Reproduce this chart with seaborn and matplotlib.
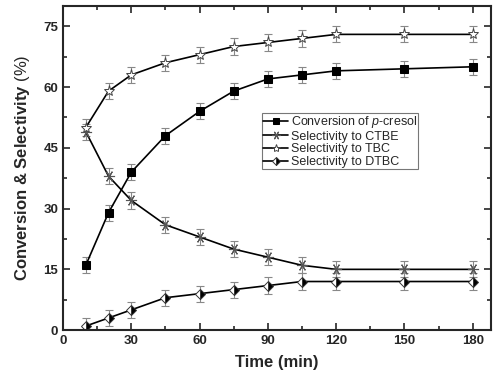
import numpy as np
import pandas as pd
import matplotlib
matplotlib.use('Agg')
import matplotlib.pyplot as plt
import seaborn as sns
from matplotlib.ticker import MultipleLocator

time_min = [10, 20, 30, 45, 60, 75, 90, 105, 120, 150, 180]
conv_pcresol = [16, 29, 39, 48, 54, 59, 62, 63, 64, 64.5, 65]
sel_ctbe = [49, 38, 32, 26, 23, 20, 18, 16, 15, 15, 15]
sel_tbc = [50, 59, 63, 66, 68, 70, 71, 72, 73, 73, 73]
sel_dtbc = [1, 3, 5, 8, 9, 10, 11, 12, 12, 12, 12]
err = 2

labels = ['Conversion of $p$-cresol', 'Selectivity to CTBE', 'Selectivity to TBC', 'Selectivity to DTBC']
series = [conv_pcresol, sel_ctbe, sel_tbc, sel_dtbc]

sns.set_style('ticks')
plt.rcParams['font.family'] = ['Liberation Sans', 'DejaVu Sans']
plt.rcParams['mathtext.fontset'] = 'custom'
plt.rcParams['mathtext.it'] = 'Liberation Sans:italic'
plt.rcParams['mathtext.rm'] = 'Liberation Sans'

fig = plt.figure(figsize=(5, 3.76), dpi=100)
ax = fig.add_axes([0.126, 0.122, 0.856, 0.862])

# marker styles per series
styles = [
    dict(marker='s', markersize=5.5, markerfacecolor='black', markeredgecolor='black'),
    dict(marker=(6, 2, 90), markersize=8, markeredgecolor='#555555', markeredgewidth=0.8),
    dict(marker='*', markersize=8, markerfacecolor='white', markeredgecolor='#444444', markeredgewidth=0.7),
    dict(marker='D', markersize=5.5, fillstyle='right', markerfacecolor='black',
         markerfacecoloralt='white', markeredgecolor='#333333', markeredgewidth=0.7),
]

for vals, lab, st in zip(series, labels, styles):
    df = pd.DataFrame({'t': time_min, 'v': vals})
    ax.errorbar(df['t'], df['v'], yerr=err, fmt='none', ecolor='#888888',
                elinewidth=0.8, capsize=3, capthick=0.8, zorder=1)
    sns.lineplot(data=df, x='t', y='v', ax=ax, color='black', linewidth=1.2,
                 label=lab, zorder=2, **st)

ax.set_xlim(0, 188)
ax.set_ylim(0, 80)
ax.xaxis.set_major_locator(MultipleLocator(30))
ax.xaxis.set_minor_locator(MultipleLocator(15))
ax.yaxis.set_major_locator(MultipleLocator(15))
ax.yaxis.set_minor_locator(MultipleLocator(7.5))
ax.tick_params(which='both', direction='in', top=True, right=True, width=1.2)
ax.tick_params(which='major', length=5, labelsize=9.5)
ax.tick_params(which='minor', length=3)
ax.tick_params(labeltop=False, labelright=False)
for lbl in ax.get_xticklabels() + ax.get_yticklabels():
    lbl.set_fontweight('bold')
for sp in ax.spines.values():
    sp.set_linewidth(1.5)
    sp.set_visible(True)

ax.set_xlabel('Time (min)', fontsize=12, fontweight='bold', labelpad=6)
ax.set_ylabel(r'Conversion & Selectivity $\mathrm{(\%)}$', fontsize=12, fontweight='bold', labelpad=8)

leg = ax.legend(loc='upper left', bbox_to_anchor=(0.465, 0.67), fontsize=9,
                frameon=True, fancybox=False, edgecolor='#555555',
                handlelength=2.0, handletextpad=0.2, borderpad=0.1,
                labelspacing=0.05, borderaxespad=0, markerscale=0.75)
leg.get_frame().set_linewidth(0.8)

fig.savefig('out.png', dpi=100)
